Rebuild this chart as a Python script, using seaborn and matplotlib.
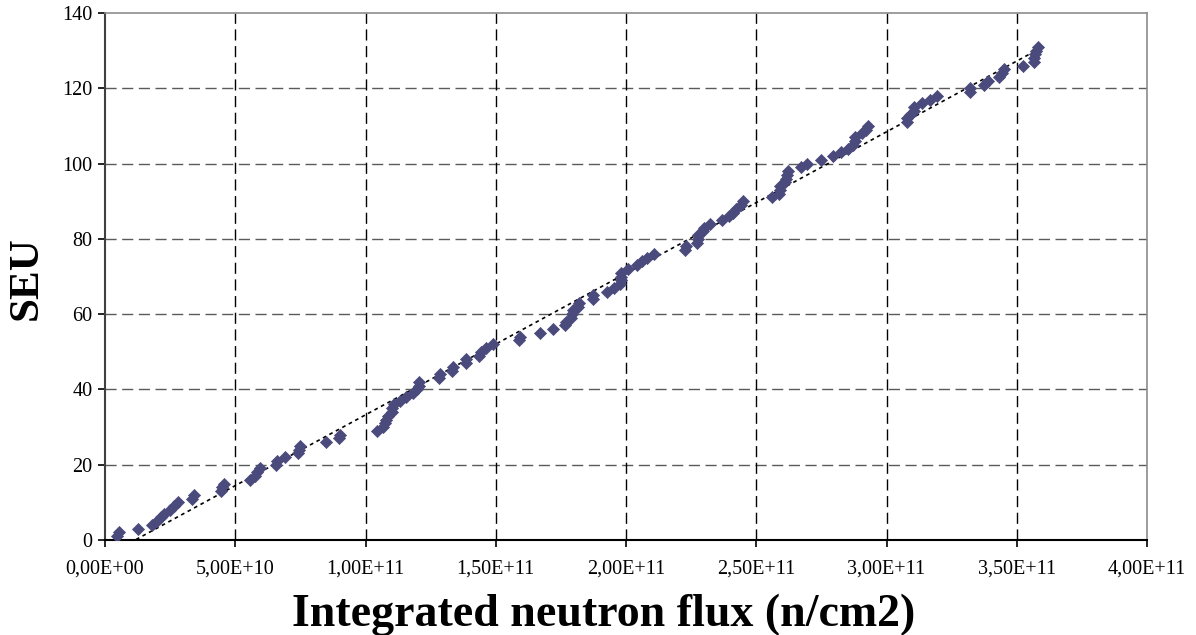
import matplotlib
matplotlib.use("Agg")
import matplotlib.pyplot as plt
import seaborn as sns
import numpy as np
import pandas as pd

# Integrated neutron flux (units of 1e10 n/cm2) and cumulative SEU count
flux_e10 = [0.45, 0.55, 1.28, 1.79, 2.0, 2.15, 2.25, 2.5, 2.65, 2.8,
            3.35, 3.4, 4.45, 4.5, 4.55, 5.55, 5.75, 5.85, 5.95, 6.55,
            6.6, 6.9, 7.4, 7.45, 7.5, 8.5, 9.0, 9.02, 10.43, 10.69,
            10.75, 10.79, 10.85, 11.0, 11.03, 11.1, 11.33, 11.56, 11.81, 11.99,
            12.05, 12.07, 12.84, 12.86, 13.33, 13.36, 13.84, 13.86, 14.37, 14.43,
            14.63, 14.89, 15.9, 15.92, 16.68, 17.19, 17.66, 17.7, 17.9, 17.93,
            17.95, 18.17, 18.21, 18.72, 18.74, 19.26, 19.54, 19.77, 19.8, 19.8,
            19.82, 20.09, 20.41, 20.6, 20.82, 21.08, 22.27, 22.3, 22.74, 22.76,
            22.78, 22.97, 23.0, 23.23, 23.67, 23.97, 24.1, 24.23, 24.4, 24.5,
            25.6, 25.89, 25.9, 25.92, 26.1, 26.14, 26.17, 26.2, 26.71, 26.96,
            27.48, 27.96, 28.25, 28.54, 28.7, 28.8, 28.8, 29.05, 29.2, 29.3,
            30.78, 30.78, 30.9, 31.04, 31.07, 31.36, 31.66, 31.94, 33.19, 33.19,
            33.75, 33.88, 34.3, 34.43, 34.5, 35.24, 35.65, 35.67, 35.71, 35.75,
            35.8]
seu = list(range(1, len(flux_e10) + 1))

x_ticks = [0, 5e10, 1e11, 1.5e11, 2e11, 2.5e11, 3e11, 3.5e11, 4e11]
x_tick_labels = ["0,00E+00", "5,00E+10", "1,00E+11", "1,50E+11", "2,00E+11",
                 "2,50E+11", "3,00E+11", "3,50E+11", "4,00E+11"]
y_ticks = [0, 20, 40, 60, 80, 100, 120, 140]

df = pd.DataFrame({"flux": np.array(flux_e10) * 1e10, "seu": seu})

sns.set_theme(style="white")
plt.rcParams["font.family"] = ["Liberation Serif", "DejaVu Serif"]
plt.rcParams["text.color"] = "black"
plt.rcParams["axes.labelcolor"] = "black"

fig = plt.figure(figsize=(11.96, 6.35), dpi=100)
ax = fig.add_axes([105 / 1196, 95 / 635, (1147 - 105) / 1196, (540 - 13) / 635])

ax.set_xlim(0, 4e11)
ax.set_ylim(0, 140)
ax.set_xticks(x_ticks)
ax.set_xticklabels(x_tick_labels)
ax.set_yticks(y_ticks)

# grid
for yv in y_ticks[1:-1]:
    ax.axhline(yv, color="#5a5a5a", lw=1.0, ls=(0, (8, 4)), zorder=1)
for xv in x_ticks[1:-1]:
    ax.axvline(xv, color="black", lw=1.0, ls=(0, (8, 4)), zorder=1)

sns.regplot(data=df, x="flux", y="seu", ax=ax, scatter=False, ci=None,
            line_kws=dict(color="black", lw=1.2, ls=(0, (2.2, 2.2)), zorder=2))
sns.scatterplot(data=df, x="flux", y="seu", ax=ax, marker="D", s=38,
                color="#4b4a7c", edgecolor="#4b4a7c", linewidth=0.5, zorder=3)

for side in ["top", "right"]:
    ax.spines[side].set_color("#8c8c8c")
    ax.spines[side].set_linewidth(1.2)
ax.spines["left"].set_color("#404040")
ax.spines["left"].set_linewidth(1.5)
ax.spines["bottom"].set_color("black")
ax.spines["bottom"].set_linewidth(1.5)

ax.tick_params(axis="both", which="major", direction="out", length=5, width=1.2,
               colors="black", labelsize=14.5, pad=4,
               left=True, bottom=True)
ax.tick_params(axis="x", pad=9)

ax.set_xlabel("Integrated neutron flux (n/cm2)", fontsize=33, fontweight="bold",
              color="black")
ax.xaxis.set_label_coords((604 - 105) / 1042, (540 - 594) / 527)
ax.set_ylabel("SEU", fontsize=31, fontweight="bold", color="black")
ax.yaxis.set_label_coords((8 - 105) / 1042, (540 - 278) / 527)
ax.yaxis.label.set_va("top")

fig.savefig("out.png", dpi=100)
